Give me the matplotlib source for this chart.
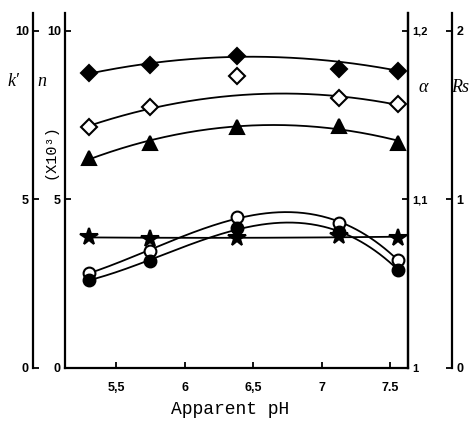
import numpy as np
import matplotlib
matplotlib.use('Agg')
import matplotlib.pyplot as plt

# data
ph = np.array([5.30, 5.75, 6.38, 7.13, 7.56])
filled_diamond = [8.75, 8.99, 9.26, 8.87, 8.81]
open_diamond = [7.15, 7.74, 8.66, 8.01, 7.83]
filled_triangle = [6.23, 6.68, 7.15, 7.18, 6.68]
star = [3.89, 3.84, 3.85, 3.92, 3.87]
open_circle = [2.82, 3.47, 4.48, 4.30, 3.20]
filled_circle = [2.61, 3.18, 4.14, 4.02, 2.91]

x_ticks = [5.5, 6, 6.5, 7, 7.5]
x_labels = ['5,5', '6', '6,5', '7', '7.5']
left_ticks = [0, 5, 10]
alpha_ticks = [1.0, 1.1, 1.2]
alpha_labels = ['1', '1,1', '1,2']
rs_ticks = [0, 1, 2]

TICKFONT = {'family': 'Liberation Sans', 'weight': 'bold', 'size': 9}


def fit_curve(y, deg, skip=None):
    # smooth hand-drawn style curve through the points
    idx = [i for i in range(len(ph)) if i != skip]
    c = np.polyfit(ph[idx], np.asarray(y)[idx], deg)
    xs = np.linspace(ph[0], ph[-1], 200)
    return xs, np.polyval(c, xs)


def style_ticks(a, axis, size=9):
    a.tick_params(axis=axis, direction='in', length=4, width=1.3, pad=3)
    for lab in (a.get_yticklabels() if axis == 'y' else a.get_xticklabels()):
        lab.set_fontproperties(dict(TICKFONT, size=size))


fig = plt.figure(figsize=(4.7, 4.22), dpi=100)
ax = fig.add_axes([65 / 470, 54 / 422, 343 / 470, 355 / 422])
ax.set_xlim(5.128, 7.63)
ax.set_ylim(0, 10.53)

series = [
    (filled_diamond, 'D', 'black', 2, 3),
    (open_diamond, 'D', 'white', 2, 2),
    (filled_triangle, '^', 'black', 2, None),
    (open_circle, 'o', 'white', 3, None),
    (filled_circle, 'o', 'black', 3, None),
    (star, '*', 'black', 2, None),
]
msizes = {'D': 8, '^': 10, 'o': 8.5, '*': 13}
for y, mk, fc, deg, skip in series:
    xs, ys = fit_curve(y, deg, skip)
    ax.plot(xs, ys, color='black', lw=1.3, zorder=2)
for y, mk, fc, deg, skip in series:
    ax.plot(ph, y, linestyle='none', marker=mk, markersize=msizes[mk],
            markerfacecolor=fc, markeredgecolor='black', markeredgewidth=1.5,
            zorder=4 if mk == '*' else 3)

for s in ['left', 'bottom', 'right']:
    ax.spines[s].set_linewidth(1.6)
ax.spines['top'].set_visible(False)
ax.set_xticks(x_ticks)
ax.set_xticklabels(x_labels)
ax.set_yticks(left_ticks)
ax.set_yticklabels([str(v) for v in left_ticks])
style_ticks(ax, 'y')
style_ticks(ax, 'x')
ax.tick_params(axis='x', pad=10)

# outer k' axis
ax_k = ax.twinx()
for s in ['top', 'bottom', 'right']:
    ax_k.spines[s].set_visible(False)
ax_k.spines['left'].set_visible(True)
ax_k.spines['left'].set_position(('axes', -32 / 343))
ax_k.spines['left'].set_linewidth(1.6)
ax_k.yaxis.tick_left()
ax_k.set_ylim(0, 10.53)
ax_k.set_yticks(left_ticks)
ax_k.set_yticklabels([str(v) for v in left_ticks])
style_ticks(ax_k, 'y')

# alpha axis
ax_a = ax.twinx()
for s in ['top', 'bottom', 'left']:
    ax_a.spines[s].set_visible(False)
ax_a.spines['right'].set_linewidth(1.6)
ax_a.set_ylim(1.0, 1.0 + 0.2 * 10.53 / 10)
ax_a.set_yticks(alpha_ticks)
ax_a.set_yticklabels(alpha_labels)
style_ticks(ax_a, 'y', size=8)

# Rs axis
ax_r = ax.twinx()
for s in ['top', 'bottom', 'left']:
    ax_r.spines[s].set_visible(False)
ax_r.spines['right'].set_position(('axes', 1 + 44 / 343))
ax_r.spines['right'].set_linewidth(1.6)
ax_r.set_ylim(0, 2 * 10.53 / 10)
ax_r.set_yticks(rs_ticks)
ax_r.set_yticklabels([str(v) for v in rs_ticks])
style_ticks(ax_r, 'y')

serif_it = {'family': 'Liberation Serif', 'style': 'italic', 'size': 13}
fig.text(13 / 470, 1 - 82 / 422, "k\u2032", ha='center', va='center', fontdict=serif_it)
fig.text(42 / 470, 1 - 82 / 422, "n", ha='center', va='center', fontdict=serif_it)
fig.text(423 / 470, 1 - 88 / 422, "\u03b1", ha='center', va='center', fontdict=serif_it)
fig.text(460 / 470, 1 - 88 / 422, "Rs", ha='center', va='center', fontdict=serif_it)
fig.text(51 / 470, 1 - 152 / 422, "(X10\u00b3)", ha='center', va='center', rotation=90,
         family='Liberation Mono', size=11)
fig.text(230 / 470, 1 - 410 / 422, "Apparent pH", ha='center', va='center',
         family='Liberation Mono', size=13)

fig.savefig('out.png', dpi=100)
